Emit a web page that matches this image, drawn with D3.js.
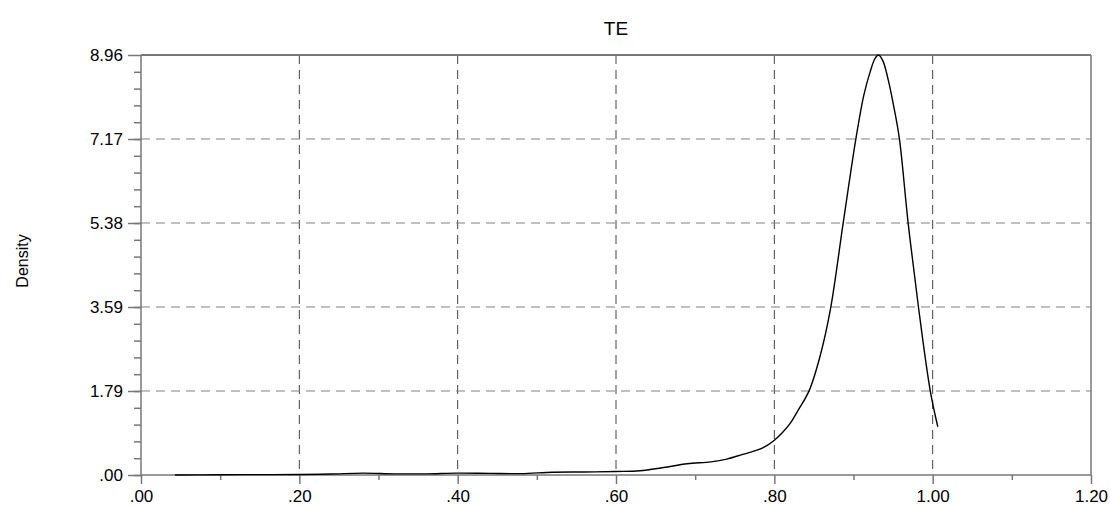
<!DOCTYPE html>
<html lang="en">
<head>
    <meta charset="UTF-8">
    <title>TE Density</title>
    <script src="https://d3js.org/d3.v7.min.js"></script>
    <style>
        body { margin: 0; background: #fff; }
        text { font-family: "Liberation Sans", Arial, sans-serif; fill: #000; }
        .axis path, .axis line { stroke: #777; stroke-width: 1.5; }
        .axis text { font-size: 17px; }
        .grid-v { stroke: #444; stroke-dasharray: 9, 6; }
        .grid-h { stroke: #808080; stroke-dasharray: 9, 6; }
        .density { fill: none; stroke: #000; stroke-width: 1.4; }
    </style>
</head>
<body>
<div id="chart"></div>
<script>
    // density estimate
    const teX = [0.043, 0.10, 0.15, 0.20, 0.24, 0.28, 0.32, 0.36, 0.40, 0.44, 0.48, 0.52, 0.56,
        0.60, 0.63, 0.66, 0.69, 0.72, 0.74, 0.76, 0.78, 0.79, 0.80, 0.81, 0.82, 0.83, 0.844,
        0.858, 0.871, 0.887, 0.903, 0.913, 0.921, 0.927, 0.9315, 0.937, 0.944, 0.951, 0.958,
        0.969, 0.982, 0.997, 1.0065];
    const teDensity = [0.00, 0.005, 0.008, 0.01, 0.02, 0.04, 0.025, 0.025, 0.04, 0.035, 0.03, 0.06, 0.065,
        0.075, 0.09, 0.16, 0.24, 0.28, 0.34, 0.44, 0.54, 0.62, 0.74, 0.9, 1.1, 1.38, 1.8,
        2.55, 3.55, 5.38, 7.17, 8.1, 8.6, 8.88, 8.96, 8.84, 8.42, 7.85, 7.17,
        5.38, 3.59, 1.79, 1.03];

    const xTicks = [0, 0.2, 0.4, 0.6, 0.8, 1.0, 1.2];
    const xTickLabels = [".00", ".20", ".40", ".60", ".80", "1.00", "1.20"];
    const yTicks = [0, 1.792, 3.584, 5.376, 7.168, 8.96];
    const yTickLabels = [".00", "1.79", "3.59", "5.38", "7.17", "8.96"];

    const W = 1110, H = 505;
    const margin = { top: 55, right: 19, bottom: 30, left: 141 };
    const width = W - margin.left - margin.right;
    const height = H - margin.top - margin.bottom;

    const svg = d3.select("#chart").append("svg")
        .attr("width", W)
        .attr("height", H);

    const g = svg.append("g")
        .attr("transform", "translate(" + margin.left + "," + margin.top + ")");

    const x = d3.scaleLinear().domain([0, 1.2]).range([0, width]);
    const y = d3.scaleLinear().domain([0, 8.96]).range([height, 0]);

    // grid
    g.selectAll(".grid-v")
        .data(xTicks.slice(1, -1))
        .enter().append("line")
        .attr("class", "grid-v")
        .attr("x1", d => x(d)).attr("x2", d => x(d))
        .attr("y1", 0).attr("y2", height);

    g.selectAll(".grid-h")
        .data(yTicks.slice(1, -1))
        .enter().append("line")
        .attr("class", "grid-h")
        .attr("x1", 0).attr("x2", width)
        .attr("y1", d => y(d)).attr("y2", d => y(d));

    // frame top and right
    g.append("line").attr("x1", 0).attr("x2", width).attr("y1", 0).attr("y2", 0)
        .attr("stroke", "#777").attr("stroke-width", 2);
    g.append("line").attr("x1", width).attr("x2", width).attr("y1", 0).attr("y2", height)
        .attr("stroke", "#777").attr("stroke-width", 1.5);

    // minor ticks
    g.append("g")
        .attr("class", "axis")
        .attr("transform", "translate(0," + height + ")")
        .call(d3.axisBottom(x).tickValues(d3.range(0.1, 1.2, 0.2)).tickSize(5).tickFormat(""))
        .call(a => a.select(".domain").remove());

    g.append("g")
        .attr("class", "axis")
        .call(d3.axisLeft(y).tickValues(d3.range(0, 25).map(i => i * 0.3584)).tickSize(7).tickFormat(""))
        .call(a => a.select(".domain").remove());

    // main axes
    g.append("g")
        .attr("class", "axis")
        .attr("transform", "translate(0," + height + ")")
        .call(d3.axisBottom(x).tickValues(xTicks).tickSize(9).tickPadding(6)
            .tickFormat((d, i) => xTickLabels[i]))
        .call(a => a.select(".domain").attr("d", "M0,0H" + width));

    g.append("g")
        .attr("class", "axis")
        .call(d3.axisLeft(y).tickValues(yTicks).tickSize(13).tickPadding(5)
            .tickFormat((d, i) => yTickLabels[i]))
        .call(a => a.select(".domain").attr("d", "M0,0V" + height));

    // density curve
    const line = d3.line()
        .x(d => x(d[0]))
        .y(d => y(d[1]))
        .curve(d3.curveCatmullRom.alpha(0.5));

    g.append("path")
        .datum(teX.map((v, i) => [v, teDensity[i]]))
        .attr("class", "density")
        .attr("d", line);

    // title and label
    svg.append("text")
        .attr("x", margin.left + width / 2)
        .attr("y", 35)
        .attr("text-anchor", "middle")
        .attr("font-size", 19)
        .text("TE");

    svg.append("text")
        .attr("transform", "translate(28," + (margin.top + height / 2 - 4) + ") rotate(-90)")
        .attr("text-anchor", "middle")
        .attr("font-size", 16)
        .text("Density");
</script>
</body>
</html>
